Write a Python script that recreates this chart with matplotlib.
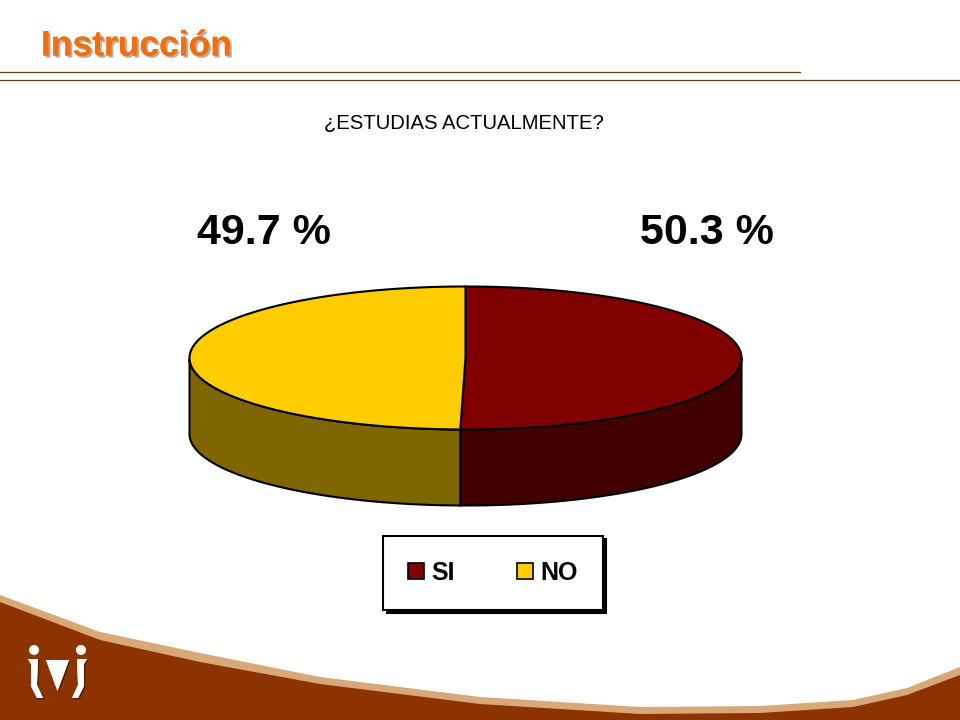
import numpy as np
import matplotlib
matplotlib.use('Agg')
import matplotlib.pyplot as plt
import matplotlib.patheffects as pe
from matplotlib.patches import Polygon, Patch, Circle

plt.rcParams['font.family'] = ['Liberation Sans', 'DejaVu Sans']

# Chart data
categories = ['SI', 'NO']
values = [50.3, 49.7]
title = '¿ESTUDIAS ACTUALMENTE?'
heading = 'Instrucción'

top_colors = ['#800000', '#FFCC00']
side_colors = ['#400000', '#806600']

# Everything is placed in the pixel space of the slide
fig = plt.figure(figsize=(9.6, 7.2), dpi=100)
ax = fig.add_axes([0, 0, 1, 1])
ax.set_xlim(0, 960)
ax.set_ylim(720, 0)
ax.axis('off')

# Slide header
ax.text(41, 46, heading, fontsize=25.5, fontweight='bold', color='#F26F10',
        va='center', ha='left',
        path_effects=[pe.withSimplePatchShadow(offset=(1.5, -1.5), shadow_rgbFace='#8a6a50', alpha=0.55),
                      pe.Normal()])
ax.plot([0, 800], [72, 72], color='#6B3A12', lw=0.9)
ax.plot([0, 960], [80, 80], color='#6B3A12', lw=0.9)

ax.text(464, 123, title, fontsize=14.6, color='black', ha='center', va='center')

# Pie in fake 3D: clockwise from 12 o'clock, like the original
cx, cy, rx, ry, depth = 465.5, 358, 276, 71.5, 76
total = sum(values)
start = 0.0
for val, top, side in zip(values, top_colors, side_colors):
    end = start + val / total * 2 * np.pi
    t = np.linspace(start, end, 200)
    x = cx + rx * np.sin(t)
    y = cy - ry * np.cos(t)
    # Only the part of the rim facing us gets a wall
    front = (t >= np.pi / 2) & (t <= 3 * np.pi / 2)
    xf, yf = x[front], y[front]
    wall = np.column_stack([np.r_[xf, xf[::-1]], np.r_[yf, yf[::-1] + depth]])
    ax.add_patch(Polygon(wall, closed=True, fc=side, ec='black', lw=1.5, zorder=2))
    wedge = np.column_stack([np.r_[cx, x], np.r_[cy, y]])
    ax.add_patch(Polygon(wedge, closed=True, fc=top, ec='black', lw=1.5, zorder=3))
    start = end

# Value labels
ax.text(264, 233, '%.1f %%' % values[1], fontsize=31, fontweight='bold', ha='center', va='center')
ax.text(707, 233, '%.1f %%' % values[0], fontsize=31, fontweight='bold', ha='center', va='center')

# Legend
handles = [Patch(fc=c, ec='black', lw=1.2) for c in top_colors]
leg = ax.legend(handles, categories, loc='center', bbox_to_anchor=(493, 573),
                bbox_transform=ax.transData, ncol=2, fancybox=False, shadow={'color': 'black', 'alpha': 1, 'ox': 2.5, 'oy': -2.5},
                framealpha=1, edgecolor='black', prop={'size': 18, 'weight': 'bold'},
                handlelength=0.62, handleheight=0.62, handletextpad=0.3, columnspacing=2.5,
                borderpad=1.0, borderaxespad=0)
leg.get_frame().set_linewidth(1.5)
leg.set_zorder(5)

# Footer swoosh
band_x = [0, 100, 200, 320, 480, 640, 760, 853, 907, 960]
band_top = [595, 632, 653, 677, 697, 707, 706, 700, 688, 667]
band_low = [602, 640, 662, 684, 704, 714, 713, 707, 695, 675]
ax.fill_between(band_x, band_top, 720, color='#D8A878', lw=0, zorder=1)
ax.fill_between(band_x, band_low, 720, color='#8C3300', lw=0, zorder=1)

# Logo
shadow = [pe.withSimplePatchShadow(offset=(1, -1), shadow_rgbFace='#3a1500', alpha=0.7), pe.Normal()]
for px in (34, 81):
    ax.add_patch(Circle((px, 650), 5, fc='white', ec='none', zorder=4))
ax.add_patch(Polygon([(46, 660), (69, 660), (57.5, 691)], closed=True, fc='white', ec='none', zorder=4, path_effects=shadow))
ax.add_patch(Polygon([(28, 659), (38, 659), (37, 685), (43, 698), (37, 698), (31, 686), (31, 664)],
                     closed=True, fc='white', ec='none', zorder=4, path_effects=shadow))
ax.add_patch(Polygon([(77, 659), (87, 659), (84, 664), (84, 686), (78, 698), (72, 698), (78, 685)],
                     closed=True, fc='white', ec='none', zorder=4, path_effects=shadow))

fig.savefig('out.png', dpi=100, facecolor='white')
